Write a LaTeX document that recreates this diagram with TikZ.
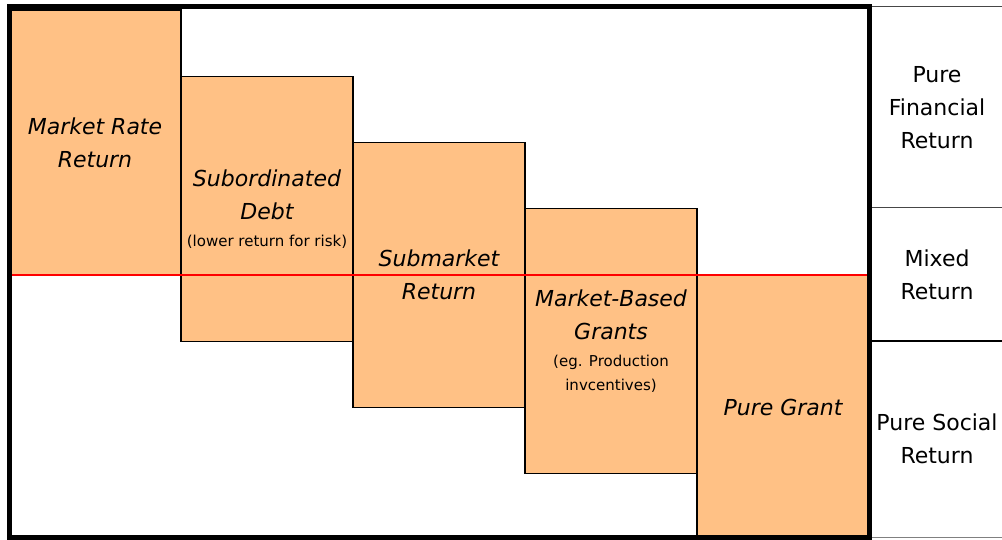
\documentclass[tikz,border=0pt]{standalone}
\usepackage{fontspec}
\setmainfont{DejaVu Sans}
\usetikzlibrary{positioning}
\definecolor{tierorange}{RGB}{255,193,133}
\definecolor{bandgray}{RGB}{70,70,70}

\begin{document}
\begin{tikzpicture}[x=1pt,y=-1pt,
    tier/.style={rectangle,draw=black,line width=1.3pt,fill=tierorange,inner sep=0pt,outer sep=0pt,
        minimum width=172pt,minimum height=265pt,align=center,
        font=\fontsize{22}{33}\selectfont\itshape},
    band/.style={rectangle,inner sep=0pt,outer sep=0pt,minimum width=130pt,align=center,
        font=\fontsize{22}{33}\selectfont},
    bandline/.style={draw=bandgray,line width=1pt}]

    \newcommand{\tiernote}{\fontsize{15}{24}\selectfont\upshape}

    \useasboundingbox (0,0) rectangle (1002,540);

    % Staircase of funding tiers
    \node[tier,anchor=north west] (mkt) at (9,10) {Market Rate\\Return};
    \node[tier,anchor=north west,yshift=-66.25pt] (debt) at (mkt.north east)
        {Subordinated\\Debt\\[-6pt]{\tiernote (lower return for risk)}};
    \node[tier,anchor=north west,yshift=-66.25pt] (submkt) at (debt.north east) {Submarket\\Return};
    \node[tier,anchor=north west,yshift=-66.25pt] (mbgrant) at (submkt.north east)
        {Market-Based\\Grants\\[-6pt]{\tiernote (eg. Production}\\[-9pt]{\tiernote invcentives)}};
    \node[tier,anchor=north west,yshift=-66.25pt] (grant) at (mbgrant.north east) {Pure Grant};

    % Return threshold
    \draw[red,line width=1.4pt] (mkt.south west) -- (grant.north east);

    % Outer frame
    \draw[line width=5pt] (9,7) rectangle (869,537);

    % Return bands (right)
    \node[band,anchor=north west,minimum height=201pt] (finret) at (872,7) {Pure\\Financial\\Return};
    \node[band,below=0pt of finret,minimum height=133pt] (mixret) {Mixed\\Return};
    \node[band,below=0pt of mixret,minimum height=196pt] (socret) {Pure Social\\Return};

    \draw[bandline] (finret.north west) -- (finret.north east);
    \draw[bandline] (mixret.north west) -- (mixret.north east);
    \draw[bandline,draw=black,line width=2pt] (socret.north west) -- (socret.north east);
    \draw[bandline,draw=gray] (socret.south west) -- (socret.south east);
\end{tikzpicture}
\end{document}
